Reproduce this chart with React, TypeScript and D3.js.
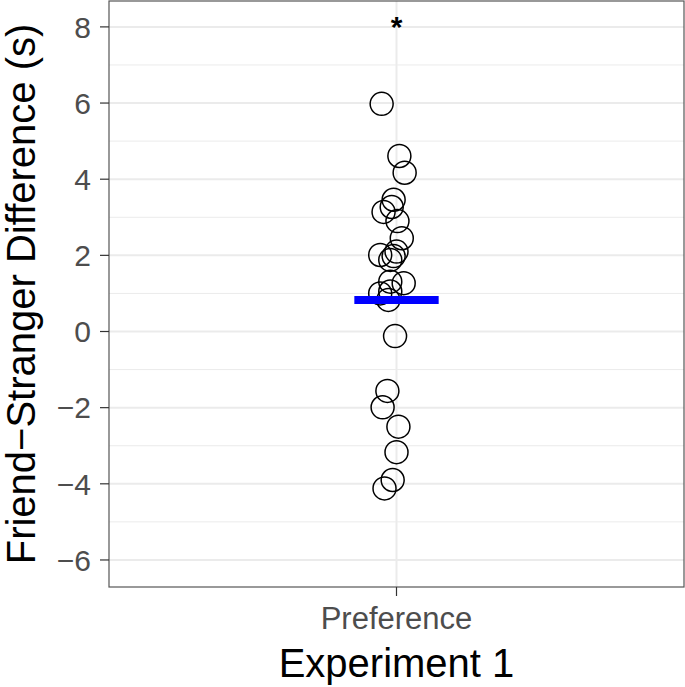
import React from 'react';
import * as d3 from 'd3';

const categories = ['Preference'];
const yTicks = [-6, -4, -2, 0, 2, 4, 6, 8];
const yMinor = [-5, -3, -1, 1, 3, 5, 7];

// friend - stranger difference per participant (s)
const diffs = [
  5.98, 4.61, 4.17, 3.46, 3.27, 3.14, 2.9, 2.45, 2.1, 2.01, 1.98, 1.88,
  1.31, 1.27, 1.05, 1.0, 0.83, -0.12, -1.56, -1.99, -2.5, -3.17, -3.9, -4.12,
];
// horizontal jitter of each point (category units)
const jitter = [
  -0.031, 0.006, 0.017, -0.006, -0.01, -0.027, 0.002, 0.011, 0.0, -0.034, -0.006, -0.013,
  -0.013, 0.015, -0.013, -0.034, -0.017, -0.003, -0.019, -0.029, 0.004, 0.0, -0.008, -0.025,
];
const meanDiff = 0.83;
const sigLabel = '*';
const sigY = 8.3;

const W = 685;
const H = 687;

const App: React.FC = () => {
  const svgRef = React.useRef<SVGSVGElement>(null);

  React.useEffect(() => {
    document.body.style.margin = '0';
    if (!svgRef.current) return;
    const svg = d3.select(svgRef.current);
    svg.selectAll('*').remove();

    const margin = { top: 1, right: 1, bottom: 100, left: 109 };
    const pw = W - margin.left - margin.right;
    const ph = H - margin.top - margin.bottom;
    const font = 'Liberation Sans, Arial, Helvetica, sans-serif';

    const y = d3.scaleLinear().domain([-6.71, 8.68]).range([ph, 0]);
    const x = d3.scaleLinear().domain([0.4, 1.6]).range([0, pw]);
    const xCat = (c: string) => x(categories.indexOf(c) + 1);

    const g = svg.append('g').attr('transform', `translate(${margin.left},${margin.top})`);

    g.append('rect').attr('width', pw).attr('height', ph).attr('fill', '#fff');

    // grid
    g.selectAll('.minor').data(yMinor).enter().append('line')
      .attr('x1', 0).attr('x2', pw)
      .attr('y1', d => y(d)).attr('y2', d => y(d))
      .attr('stroke', '#ebebeb').attr('stroke-width', 1);
    g.selectAll('.major').data(yTicks).enter().append('line')
      .attr('x1', 0).attr('x2', pw)
      .attr('y1', d => y(d)).attr('y2', d => y(d))
      .attr('stroke', '#ebebeb').attr('stroke-width', 2);
    g.selectAll('.vmajor').data(categories).enter().append('line')
      .attr('x1', d => xCat(d)).attr('x2', d => xCat(d))
      .attr('y1', 0).attr('y2', ph)
      .attr('stroke', '#ebebeb').attr('stroke-width', 2);

    // points
    g.selectAll('.pt').data(diffs).enter().append('circle')
      .attr('cx', (d, i) => x(1 + jitter[i]))
      .attr('cy', d => y(d))
      .attr('r', 11.5)
      .attr('fill', 'none')
      .attr('stroke', '#000')
      .attr('stroke-width', 1.5);

    // mean bar
    g.append('line')
      .attr('x1', x(1 - 0.088)).attr('x2', x(1 + 0.088))
      .attr('y1', y(meanDiff)).attr('y2', y(meanDiff))
      .attr('stroke', '#0000ff').attr('stroke-width', 8);

    // significance
    g.append('text')
      .attr('x', xCat(categories[0]))
      .attr('y', y(sigY))
      .attr('dy', '0.72em')
      .attr('text-anchor', 'middle')
      .attr('font-family', font)
      .attr('font-size', 30)
      .attr('font-weight', 'bold')
      .attr('fill', '#000')
      .text(sigLabel);

    // border
    g.append('rect').attr('width', pw).attr('height', ph)
      .attr('fill', 'none').attr('stroke', '#555').attr('stroke-width', 1.2);

    // y axis
    const ya = g.append('g');
    ya.selectAll('line').data(yTicks).enter().append('line')
      .attr('x1', -9).attr('x2', 0)
      .attr('y1', d => y(d)).attr('y2', d => y(d))
      .attr('stroke', '#333').attr('stroke-width', 1.2);
    ya.selectAll('text').data(yTicks).enter().append('text')
      .attr('x', -18).attr('y', d => y(d)).attr('dy', '0.36em')
      .attr('text-anchor', 'end')
      .attr('font-family', font).attr('font-size', 30)
      .attr('fill', '#4d4d4d')
      .text(d => (d < 0 ? '\u2212' + Math.abs(d) : String(d)));

    // x axis
    const xa = g.append('g').attr('transform', `translate(0,${ph})`);
    xa.selectAll('line').data(categories).enter().append('line')
      .attr('x1', d => xCat(d)).attr('x2', d => xCat(d))
      .attr('y1', 0).attr('y2', 9)
      .attr('stroke', '#333').attr('stroke-width', 1.2);
    xa.selectAll('text').data(categories).enter().append('text')
      .attr('x', d => xCat(d)).attr('y', 42)
      .attr('text-anchor', 'middle')
      .attr('font-family', font).attr('font-size', 31)
      .attr('fill', '#4d4d4d')
      .text(d => d);

    // titles
    svg.append('text')
      .attr('x', margin.left + pw / 2).attr('y', 677)
      .attr('text-anchor', 'middle')
      .attr('font-family', font).attr('font-size', 40)
      .attr('fill', '#000')
      .text('Experiment 1');
    svg.append('text')
      .attr('transform', `translate(35,${margin.top + ph / 2}) rotate(-90)`)
      .attr('text-anchor', 'middle')
      .attr('font-family', font).attr('font-size', 40)
      .attr('fill', '#000')
      .text('Friend\u2212Stranger Difference (s)');
  }, []);

  return <svg ref={svgRef} width={W} height={H} style={{ display: 'block' }} />;
};

export default App;
